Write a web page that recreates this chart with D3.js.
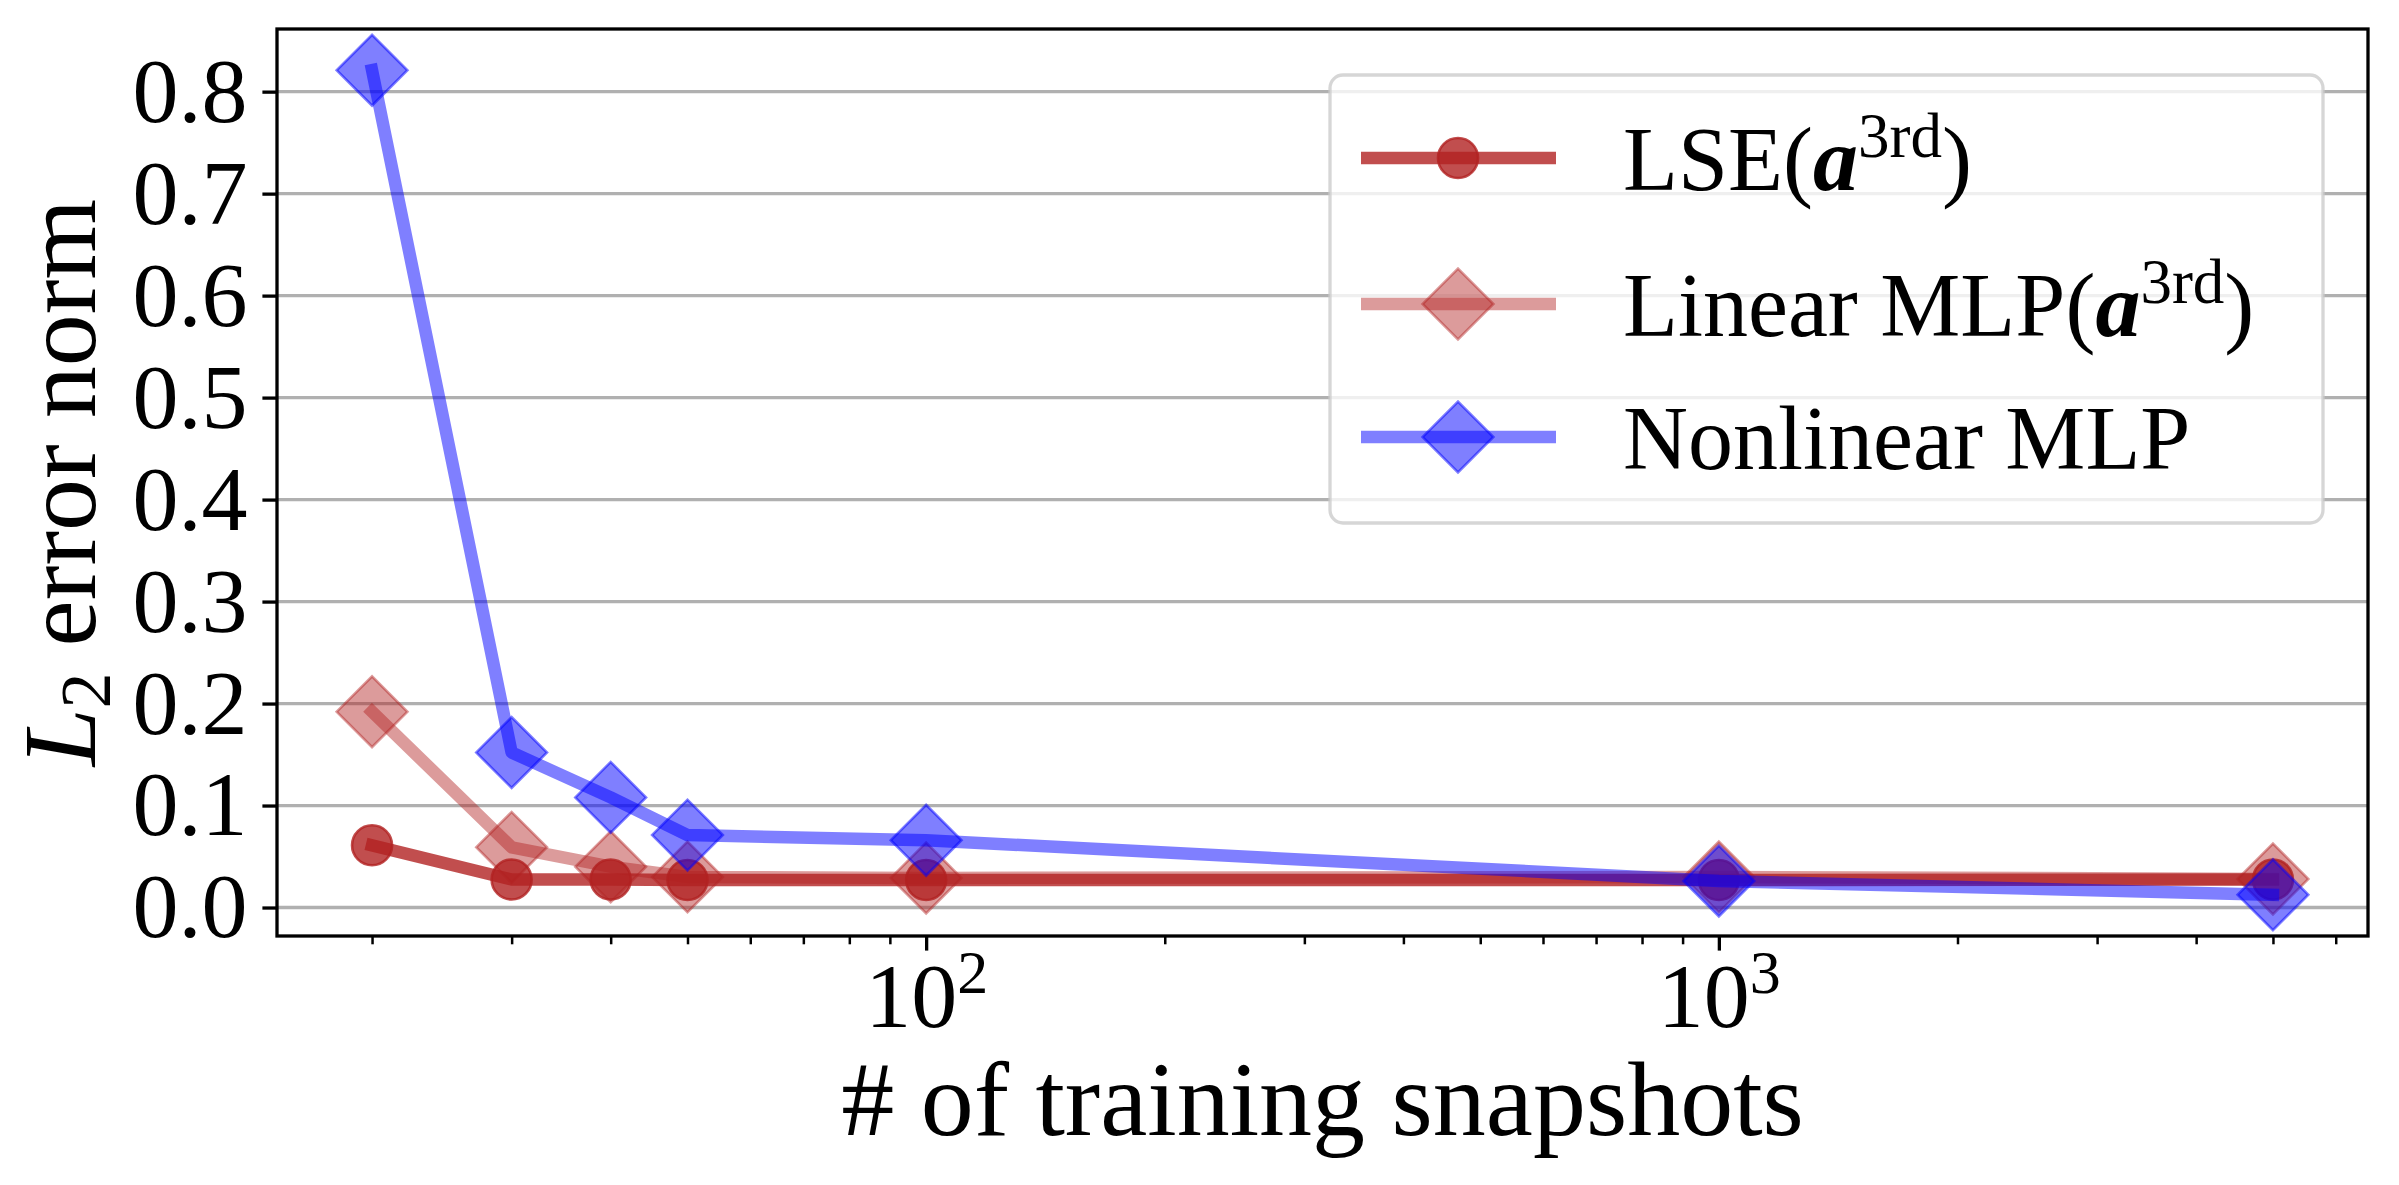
<!DOCTYPE html>
<head>
<meta charset="utf-8" />
<script src="https://cdn.jsdelivr.net/npm/d3@7"></script>
</head>

<style>
body {
  margin: 0;
  background: #fff;
}
svg {
  display: block;
}
text {
  font-family: "Liberation Serif", "DejaVu Serif", serif;
  fill: #000;
}
.grid line {
  stroke: #b0b0b0;
  stroke-width: 3.3px;
}
</style>

<body>
<script>
// values
var snapshots = [20, 30, 40, 50, 100, 1000, 5000];
var lseErr = [0.061, 0.0275, 0.0275, 0.027, 0.027, 0.027, 0.0275];
var linMlpErr = [0.192, 0.059, 0.040, 0.030, 0.029, 0.030, 0.028];
var nonlinMlpErr = [0.821, 0.152, 0.108, 0.071, 0.066, 0.026, 0.0125];

var yTicks = [0, 0.1, 0.2, 0.3, 0.4, 0.5, 0.6, 0.7, 0.8];
var xMajor = [100, 1000];
var xMajorExp = ["2", "3"];
var xMinor = [20, 30, 40, 50, 60, 70, 80, 90, 200, 300, 400, 500, 600, 700, 800, 900, 2000, 3000, 4000, 5000, 6000];

var seriesNames = ["LSE", "Linear MLP", "Nonlinear MLP"];
var seriesValues = [lseErr, linMlpErr, nonlinMlpErr];
var seriesColors = ["#b22222", "#b22222", "#0000ff"];
var seriesAlpha = [0.8, 0.45, 0.5];
var seriesMarker = ["circle", "diamond", "diamond"];

var width = 2399;
var height = 1185;
var margin = {top: 29, right: 31, bottom: 249, left: 277};
var tickFont = 92;
var labelFont = 104;
var legendFont = 90;

var svg = d3.select("body")
	.append("svg")
	.attr("width", width)
	.attr("height", height);

/* ------- SCALES (matplotlib style 5% margins) -------*/
var lx0 = Math.log10(d3.min(snapshots)), lx1 = Math.log10(d3.max(snapshots));
var padX = 0.05 * (lx1 - lx0);
var x = d3.scaleLog()
	.domain([Math.pow(10, lx0 - padX), Math.pow(10, lx1 + padX)])
	.range([margin.left, width - margin.right]);

var allY = d3.merge(seriesValues);
var y0 = d3.min(allY), y1 = d3.max(allY);
var padY = 0.05 * (y1 - y0);
var y = d3.scaleLinear()
	.domain([y0 - padY, y1 + padY])
	.range([height - margin.bottom, margin.top]);

/* ------- GRID -------*/
svg.append("g")
	.attr("class", "grid")
	.selectAll("line")
	.data(yTicks)
	.enter().append("line")
	.attr("x1", margin.left)
	.attr("x2", width - margin.right)
	.attr("y1", function(d) { return y(d); })
	.attr("y2", function(d) { return y(d); });

/* ------- SERIES -------*/
var line = d3.line()
	.x(function(d) { return x(d[0]); })
	.y(function(d) { return y(d[1]); });

var circleSym = d3.symbol().type(d3.symbolCircle).size(Math.PI * 20 * 20);
var diamondSym = d3.symbol().type(d3.symbolSquare).size(50 * 50);

function drawMarker(sel, kind) {
	if (kind == "circle") {
		sel.attr("d", circleSym);
	} else {
		sel.attr("d", diamondSym);
	}
}

seriesValues.forEach(function(vals, i) {
	var pts = snapshots.map(function(s, j) { return [s, vals[j]]; });
	var g = svg.append("g").attr("class", "series");
	g.append("path")
		.datum(pts)
		.attr("d", line)
		.attr("fill", "none")
		.attr("stroke", seriesColors[i])
		.attr("stroke-opacity", seriesAlpha[i])
		.attr("stroke-width", 12.5)
		.attr("stroke-linecap", "square")
		.attr("stroke-linejoin", "round");
	g.selectAll("path.mk")
		.data(pts)
		.enter().append("path")
		.attr("class", "mk")
		.call(drawMarker, seriesMarker[i])
		.attr("transform", function(d) {
			return "translate(" + x(d[0]) + "," + y(d[1]) + ")" + (seriesMarker[i] == "diamond" ? " rotate(45)" : "");
		})
		.attr("fill", seriesColors[i])
		.attr("fill-opacity", seriesAlpha[i])
		.attr("stroke", seriesColors[i])
		.attr("stroke-opacity", seriesAlpha[i])
		.attr("stroke-width", 2.6);
});

/* ------- AXES -------*/
var yAxis = svg.append("g")
	.attr("transform", "translate(" + margin.left + ",0)")
	.call(d3.axisLeft(y).tickValues(yTicks).tickFormat(d3.format(".1f")).tickSize(14.6).tickPadding(15));
yAxis.select(".domain").remove();
yAxis.selectAll(".tick line").attr("stroke-width", 3.3);
yAxis.selectAll(".tick text")
	.style("font-size", tickFont + "px")
	.style("font-family", "'Liberation Serif', serif");

var xMinorAxis = svg.append("g")
	.attr("transform", "translate(0," + (height - margin.bottom) + ")")
	.call(d3.axisBottom(x).tickValues(xMinor).tickSize(8.3).tickFormat(""));
xMinorAxis.select(".domain").remove();
xMinorAxis.selectAll(".tick line").attr("stroke-width", 2.5);

var xAxis = svg.append("g")
	.attr("transform", "translate(0," + (height - margin.bottom) + ")")
	.call(d3.axisBottom(x).tickValues(xMajor).tickSize(14.6).tickFormat(""));
xAxis.select(".domain").remove();
xAxis.selectAll(".tick line").attr("stroke-width", 3.3);
xAxis.selectAll(".tick").each(function(d, i) {
	var t = d3.select(this).append("text")
		.attr("y", 91)
		.attr("text-anchor", "middle")
		.style("font-size", tickFont + "px")
		.style("font-family", "'Liberation Serif', serif");
	t.append("tspan").text("10");
	t.append("tspan")
		.attr("dy", -34)
		.style("font-size", "62px")
		.text(xMajorExp[i]);
});

// frame
svg.append("rect")
	.attr("x", margin.left)
	.attr("y", margin.top)
	.attr("width", width - margin.left - margin.right)
	.attr("height", height - margin.top - margin.bottom)
	.attr("fill", "none")
	.attr("stroke", "#000")
	.attr("stroke-width", 3.3);

/* ------- AXIS LABELS -------*/
svg.append("text")
	.attr("x", (margin.left + width - margin.right) / 2)
	.attr("y", 1135)
	.attr("text-anchor", "middle")
	.style("font-size", "106px")
	.text("# of training snapshots");

var yl = svg.append("text")
	.attr("transform", "translate(95," + ((margin.top + height - margin.bottom) / 2) + ") rotate(-90)")
	.attr("text-anchor", "middle")
	.style("font-size", labelFont + "px");
yl.append("tspan").style("font-style", "italic").text("L");
yl.append("tspan").attr("dy", 15).style("font-size", "72px").text("2");
yl.append("tspan").attr("dy", -15).text(" error norm");

/* ------- LEGEND -------*/
var legend = svg.append("g").attr("class", "legend");
legend.append("rect")
	.attr("x", 1330)
	.attr("y", 75)
	.attr("width", 993)
	.attr("height", 448)
	.attr("rx", 13)
	.attr("fill", "#fff")
	.attr("fill-opacity", 0.8)
	.attr("stroke", "#cccccc")
	.attr("stroke-opacity", 0.8)
	.attr("stroke-width", 3.3);

var legendRows = [158, 304, 437];
seriesNames.forEach(function(name, i) {
	var ry = legendRows[i];
	legend.append("line")
		.attr("x1", 1361).attr("x2", 1556)
		.attr("y1", ry).attr("y2", ry)
		.attr("stroke", seriesColors[i])
		.attr("stroke-opacity", seriesAlpha[i])
		.attr("stroke-width", 12.5);
	legend.append("path")
		.call(drawMarker, seriesMarker[i])
		.attr("transform", "translate(1458," + ry + ")" + (seriesMarker[i] == "diamond" ? " rotate(45)" : ""))
		.attr("fill", seriesColors[i])
		.attr("fill-opacity", seriesAlpha[i])
		.attr("stroke", seriesColors[i])
		.attr("stroke-opacity", seriesAlpha[i])
		.attr("stroke-width", 2.6);

	var t = legend.append("text")
		.attr("x", 1623)
		.attr("y", ry + 32)
		.style("font-size", legendFont + "px");
	if (i < 2) {
		t.append("tspan").text(name + "(");
		t.append("tspan")
			.style("font-weight", "bold")
			.style("font-style", "italic")
			.text("a");
		t.append("tspan")
			.attr("dy", -33)
			.style("font-size", "63px")
			.text("3rd");
		t.append("tspan")
			.attr("dy", 33)
			.text(")");
	} else {
		t.text(name);
	}
});
</script>
</body>
